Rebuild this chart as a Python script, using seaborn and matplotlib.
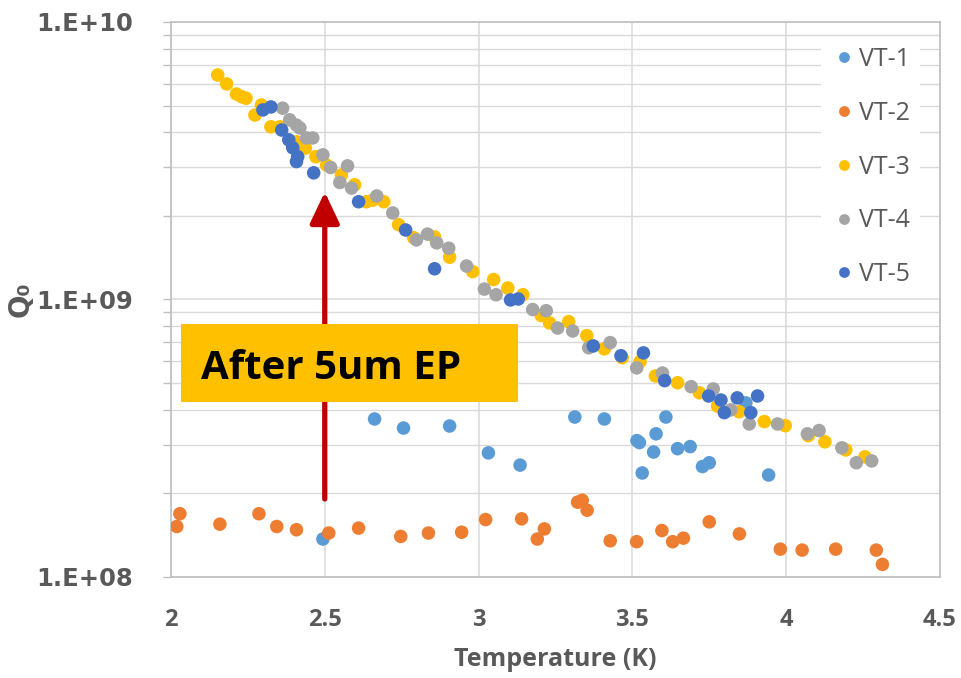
import numpy as np
import pandas as pd
import matplotlib
matplotlib.use("Agg")
import matplotlib.pyplot as plt
import seaborn as sns
from matplotlib.patches import Rectangle
from matplotlib.ticker import FixedLocator, LogLocator, NullFormatter

# ---------------- data ----------------
series_names = ["VT-1", "VT-2", "VT-3", "VT-4", "VT-5"]
series_colors = ["#5B9BD5", "#ED7D31", "#FFC000", "#A5A5A5", "#4472C4"]

vt1_T = [2.494, 2.662, 2.756, 2.906, 3.032, 3.135, 3.313, 3.409, 3.515, 3.523,
         3.532, 3.569, 3.577, 3.609, 3.647, 3.688, 3.728, 3.750, 3.869, 3.943]
vt1_Q = [1.37e8, 3.71e8, 3.44e8, 3.50e8, 2.80e8, 2.53e8, 3.77e8, 3.71e8, 3.10e8, 3.05e8,
         2.37e8, 2.82e8, 3.28e8, 3.77e8, 2.90e8, 2.95e8, 2.50e8, 2.58e8, 4.24e8, 2.33e8]

vt2_T = [2.019, 2.029, 2.159, 2.286, 2.344, 2.408, 2.513, 2.610, 2.747, 2.837,
         2.945, 3.023, 3.140, 3.191, 3.214, 3.322, 3.337, 3.353, 3.428, 3.514,
         3.596, 3.631, 3.666, 3.750, 3.848, 3.981, 4.052, 4.161, 4.293, 4.313]
vt2_Q = [1.52e8, 1.69e8, 1.55e8, 1.69e8, 1.52e8, 1.48e8, 1.44e8, 1.50e8, 1.40e8, 1.44e8,
         1.45e8, 1.61e8, 1.62e8, 1.37e8, 1.49e8, 1.86e8, 1.89e8, 1.74e8, 1.35e8, 1.34e8,
         1.47e8, 1.34e8, 1.38e8, 1.58e8, 1.43e8, 1.26e8, 1.25e8, 1.26e8, 1.25e8, 1.11e8]

vt3_T = [2.152, 2.181, 2.213, 2.230, 2.244, 2.273, 2.294, 2.325, 2.354, 2.408,
         2.437, 2.471, 2.506, 2.554, 2.597, 2.635, 2.656, 2.692, 2.740, 2.789,
         2.857, 2.906, 2.981, 3.049, 3.095, 3.144, 3.204, 3.231, 3.293, 3.352,
         3.409, 3.467, 3.525, 3.575, 3.647, 3.718, 3.777, 3.847, 3.929, 3.997,
         4.072, 4.126, 4.194, 4.256]
vt3_Q = [6.44e9, 5.98e9, 5.50e9, 5.38e9, 5.31e9, 4.62e9, 5.02e9, 4.19e9, 4.19e9, 3.70e9,
         3.51e9, 3.27e9, 3.05e9, 2.81e9, 2.59e9, 2.25e9, 2.28e9, 2.25e9, 1.86e9, 1.67e9,
         1.68e9, 1.42e9, 1.26e9, 1.18e9, 1.10e9, 1.04e9, 8.75e8, 8.23e8, 8.32e8, 7.41e8,
         6.64e8, 6.17e8, 5.97e8, 5.30e8, 5.01e8, 4.61e8, 4.13e8, 3.94e8, 3.63e8, 3.51e8,
         3.23e8, 3.07e8, 2.87e8, 2.71e8]

vt4_T = [2.363, 2.386, 2.408, 2.419, 2.441, 2.461, 2.494, 2.519, 2.549, 2.574,
         2.587, 2.669, 2.721, 2.798, 2.834, 2.864, 2.903, 2.961, 3.019, 3.057,
         3.176, 3.220, 3.257, 3.306, 3.358, 3.428, 3.514, 3.598, 3.691, 3.763,
         3.820, 3.880, 3.972, 4.069, 4.107, 4.181, 4.228, 4.278]
vt4_Q = [4.89e9, 4.44e9, 4.25e9, 4.15e9, 3.82e9, 3.82e9, 3.32e9, 2.99e9, 2.64e9, 3.03e9,
         2.52e9, 2.36e9, 2.05e9, 1.64e9, 1.72e9, 1.60e9, 1.53e9, 1.32e9, 1.09e9, 1.04e9,
         9.20e8, 9.11e8, 7.89e8, 7.70e8, 6.70e8, 6.99e8, 5.67e8, 5.43e8, 4.85e8, 4.76e8,
         4.00e8, 3.56e8, 3.56e8, 3.28e8, 3.37e8, 2.92e8, 2.58e8, 2.62e8]

vt5_T = [2.299, 2.325, 2.360, 2.383, 2.396, 2.412, 2.408, 2.464, 2.610, 2.763,
         2.857, 3.104, 3.129, 3.373, 3.463, 3.536, 3.605, 3.748, 3.788, 3.799,
         3.841, 3.885, 3.907]
vt5_Q = [4.82e9, 4.94e9, 4.08e9, 3.76e9, 3.52e9, 3.27e9, 3.14e9, 2.86e9, 2.25e9, 1.78e9,
         1.29e9, 9.96e8, 1.004e9, 6.80e8, 6.27e8, 6.42e8, 5.10e8, 4.49e8, 4.34e8, 3.91e8,
         4.42e8, 3.91e8, 4.49e8]

x_ticks = [2, 2.5, 3, 3.5, 4, 4.5]
x_tick_labels = ["2", "2.5", "3", "3.5", "4", "4.5"]
y_ticks = [1e8, 1e9, 1e10]
y_tick_labels = ["1.E+08", "1.E+09", "1.E+10"]
x_label = "Temperature (K)"
y_label = "Q₀"
note_text = "After 5um EP"
arrow_T = 2.5
arrow_Q_start = 1.91e8
arrow_Q_end = 2.44e9

# ---------------- build table ----------------
all_T = [vt1_T, vt2_T, vt3_T, vt4_T, vt5_T]
all_Q = [vt1_Q, vt2_Q, vt3_Q, vt4_Q, vt5_Q]
frames = []
for name, t, q in zip(series_names, all_T, all_Q):
    frames.append(pd.DataFrame({"T": t, "Q": q, "series": name}))
df = pd.concat(frames, ignore_index=True)

# ---------------- plot ----------------
sns.set_theme(style="white")
plt.rcParams["font.family"] = ["Open Sans", "DejaVu Sans"]

fig = plt.figure(figsize=(9.61, 6.78), dpi=100)
ax = fig.add_axes([0.1779, 0.149, 0.8002, 0.8186])

grid_c = "#D9D9D9"
text_c = "#595959"

sns.scatterplot(data=df, x="T", y="Q", hue="series", hue_order=series_names,
                palette=dict(zip(series_names, series_colors)), s=95,
                linewidth=0, edgecolor="none", ax=ax, zorder=3)

ax.set_yscale("log")
ax.set_xlim(2, 4.5)
ax.set_ylim(1e8, 1e10)

ax.xaxis.set_major_locator(FixedLocator(x_ticks))
ax.set_xticklabels(x_tick_labels)
ax.yaxis.set_major_locator(FixedLocator(y_ticks))
ax.set_yticklabels(y_tick_labels)
ax.yaxis.set_minor_locator(LogLocator(base=10, subs=np.arange(2, 10)))
ax.yaxis.set_minor_formatter(NullFormatter())

ax.grid(True, which="major", axis="both", color=grid_c, lw=1.1, zorder=0)
ax.grid(True, which="minor", axis="y", color=grid_c, lw=1.0, zorder=0)
ax.set_axisbelow(True)

for side in ["left", "bottom", "right", "top"]:
    ax.spines[side].set_color("#BFBFBF")
    ax.spines[side].set_linewidth(1.2)

ax.tick_params(axis="x", length=0, pad=22, labelsize=17, labelcolor=text_c)
ax.tick_params(axis="y", which="both", left=True, direction="out", length=6,
               width=1, color="#BFBFBF", pad=21, labelsize=17.5, labelcolor=text_c)
for lab in ax.get_xticklabels():
    lab.set_fontweight("bold")
for lab in ax.get_yticklabels():
    lab.set_fontweight("bold")
    lab.set_family("DejaVu Sans")

ax.set_xlabel(x_label, fontsize=18, fontweight="bold", color=text_c, labelpad=11)
ax.set_ylabel(y_label, fontsize=20, fontweight="bold", color=text_c,
              family="DejaVu Sans")
ax.yaxis.set_label_coords(-0.177, 0.5)

# arrow
ax.annotate("", xy=(arrow_T, arrow_Q_end), xytext=(arrow_T, arrow_Q_start),
            arrowprops=dict(arrowstyle="-|>,head_width=0.45,head_length=0.95",
                            color="#C00000", lw=3.8, shrinkA=0, shrinkB=0,
                            mutation_scale=20),
            zorder=4)

# annotation box
ax.add_patch(Rectangle((0.013, 0.316), 0.438, 0.140, transform=ax.transAxes,
                       facecolor="#FFC000", edgecolor="none", zorder=5))
ax.text(0.0386, 0.356, note_text, transform=ax.transAxes, fontsize=29,
        fontweight="bold", color="black", va="baseline", ha="left", zorder=6)

# legend
handles, labels = ax.get_legend_handles_labels()
leg = ax.legend(handles, labels, loc="upper right", bbox_to_anchor=(0.99, 0.995),
                frameon=True, fontsize=18, labelspacing=1.15, handletextpad=0.1,
                handlelength=1.0, borderpad=0.4, markerscale=0.8)
leg.get_frame().set_facecolor("white")
leg.get_frame().set_edgecolor("none")
leg.get_frame().set_alpha(1)
for t in leg.get_texts():
    t.set_color(text_c)

fig.savefig("out.png", dpi=100)
